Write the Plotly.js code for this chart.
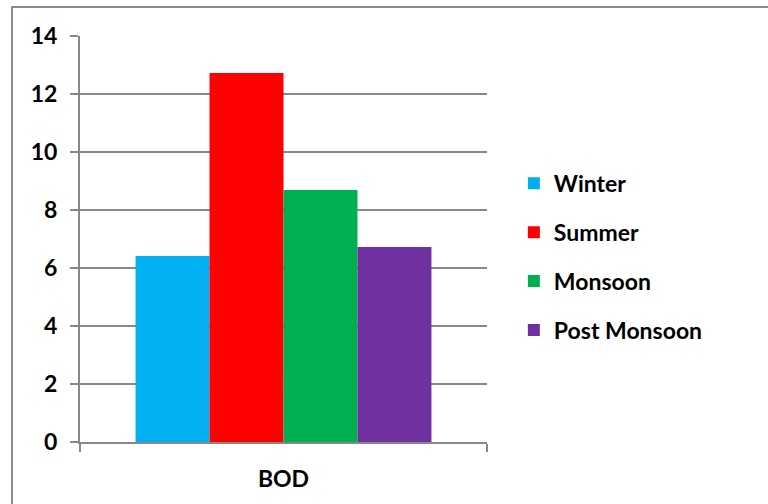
<!DOCTYPE html>
<html>
<head>
<meta charset="utf-8">
<script src="https://cdn.plot.ly/plotly-3.0.1.min.js"></script>
<style>
  html, body { margin: 0; padding: 0; background: #fff; }
  #wrap { position: relative; width: 768px; height: 504px; overflow: hidden; }
  #chart { position: absolute; left: 0; top: 0; width: 768px; height: 504px; }
  #frame {
    position: absolute; left: 11px; top: 6px; width: 800px; height: 540px;
    border-left: 2px solid #8c8c8c; border-top: 2px solid #8c8c8c;
    pointer-events: none;
  }
</style>
</head>
<body>
<div id="wrap">
  <div id="chart"></div>
  <div id="frame"></div>
</div>
<script>
// Parameter measured and seasonal BOD values
const categories = ['BOD'];
const seasons = ['Winter', 'Summer', 'Monsoon', 'Post Monsoon'];
const winter = [6.41];
const summer = [12.72];
const monsoon = [8.69];
const postMonsoon = [6.72];
const yTicks = [0, 2, 4, 6, 8, 10, 12, 14];

const seriesValues = [winter, summer, monsoon, postMonsoon];
const seriesColors = ['#00B0F0', '#FF0000', '#00B050', '#7030A0'];

const FONT = 'Lato, "Liberation Sans", Arial, sans-serif';
const GRID = '#888888';
const TEXT_FONT = { family: FONT, size: 23, color: '#000000', weight: 'bold' };

const traces = seasons.map((name, i) => ({
  type: 'bar',
  name: name,
  x: categories,
  y: seriesValues[i],
  legendgroup: name,
  marker: { color: seriesColors[i], line: { width: 0 } },
  hoverinfo: 'name+y'
}));

const layout = {
  width: 768,
  height: 504,
  margin: { l: 80, r: 281, t: 36, b: 62 },
  paper_bgcolor: '#ffffff',
  plot_bgcolor: '#ffffff',
  font: TEXT_FONT,
  barmode: 'group',
  bargap: 0.273,
  bargroupgap: 0,
  showlegend: true,
  legend: {
    x: 1.066, xanchor: 'left',
    y: 0.456, yanchor: 'middle',
    font: TEXT_FONT,
    tracegroupgap: 16,
    bgcolor: 'rgba(0,0,0,0)'
  },
  xaxis: {
    type: 'category',
    range: [-0.5, 0.5],
    showline: true,
    linecolor: GRID,
    linewidth: 2,
    ticks: 'outside',
    tickson: 'boundaries',
    ticklen: 8,
    tickwidth: 2,
    tickcolor: GRID,
    showgrid: false,
    tickfont: TEXT_FONT,
    ticklabelstandoff: 15,
    fixedrange: true
  },
  yaxis: {
    range: [0, 14],
    tickvals: yTicks,
    ticktext: yTicks.map(String),
    showline: true,
    linecolor: GRID,
    linewidth: 2,
    showgrid: true,
    gridcolor: GRID,
    gridwidth: 2,
    zeroline: false,
    ticks: 'outside',
    ticklen: 8,
    tickwidth: 2,
    tickcolor: GRID,
    tickfont: TEXT_FONT,
    ticklabelstandoff: 8,
    fixedrange: true
  }
};

Plotly.newPlot('chart', traces, layout, { displayModeBar: false, staticPlot: true });
</script>
</body>
</html>
